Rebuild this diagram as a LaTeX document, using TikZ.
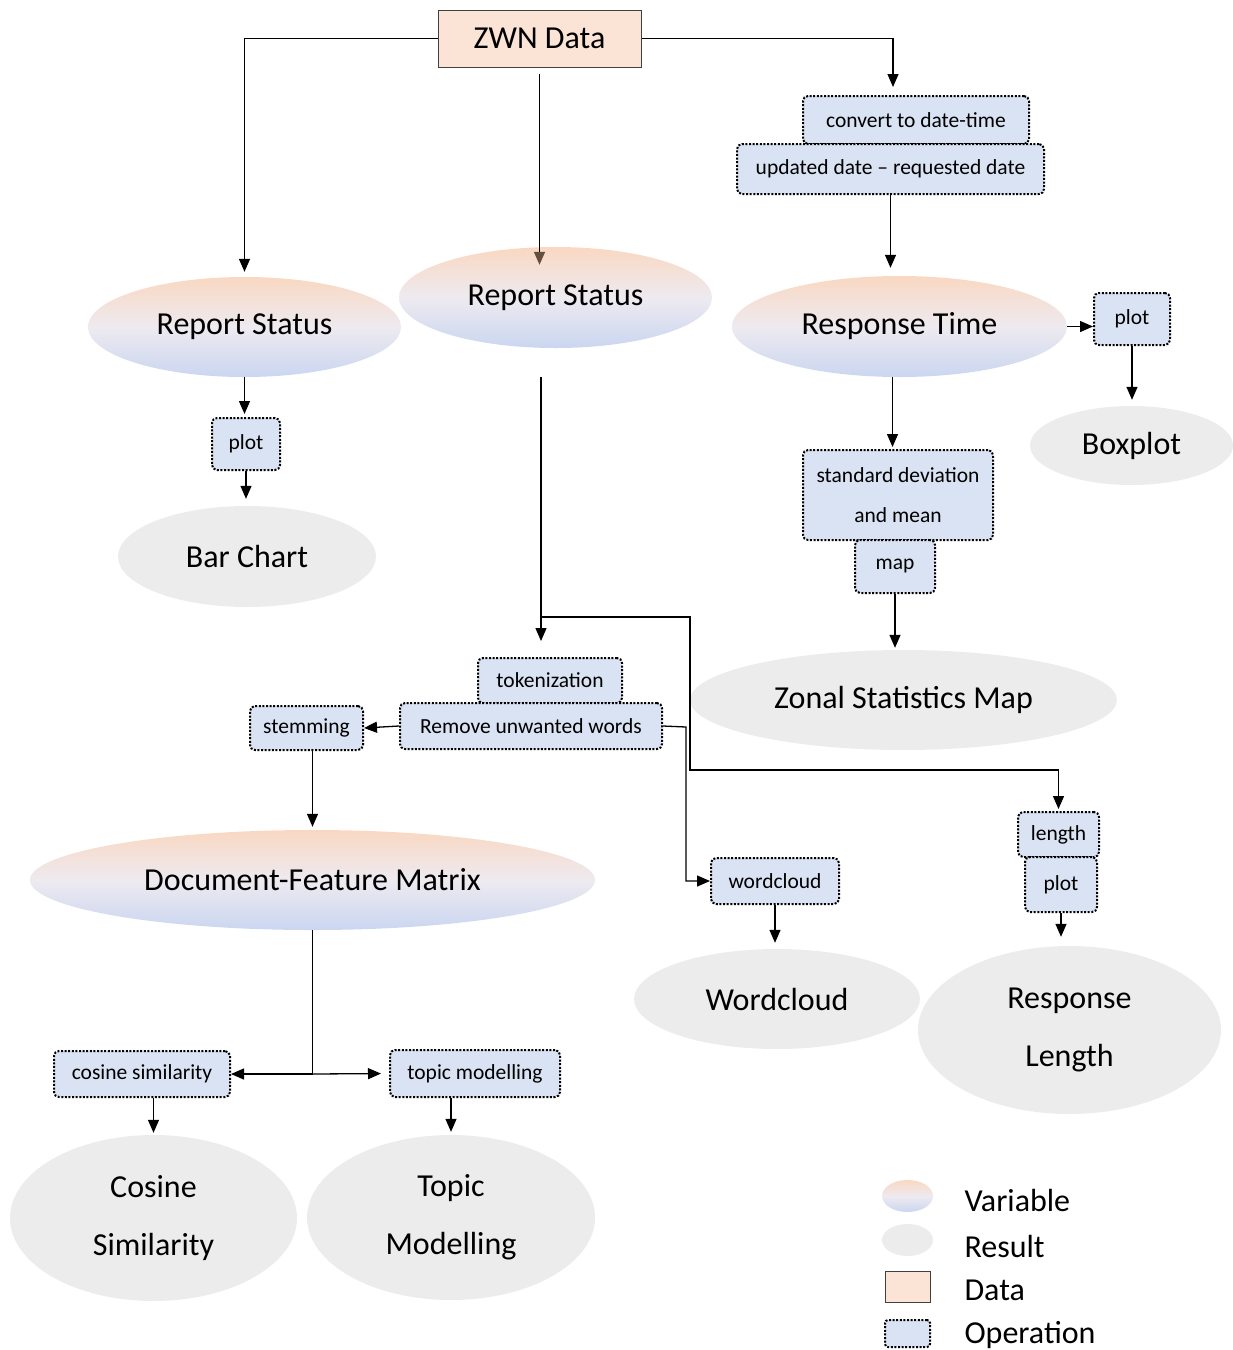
\documentclass[tikz,border=0pt]{standalone}
\usepackage{fontspec}
\setmainfont{Carlito}
\usetikzlibrary{shapes.geometric,arrows.meta,calc}
\definecolor{peach}{RGB}{251,228,214}
\definecolor{vtop}{RGB}{249,216,194}
\definecolor{vmid}{RGB}{238,234,240}
\definecolor{vbot}{RGB}{202,214,240}
\definecolor{opfill}{RGB}{218,227,243}
\definecolor{resfill}{RGB}{236,236,236}
\definecolor{tipbrown}{RGB}{100,78,62}
\tikzset{
  big/.style={font=\fontsize{32}{38}\selectfont},
  small/.style={font=\fontsize{21.5}{26}\selectfont},
  var/.style={ellipse, draw=none, top color=vtop, bottom color=vbot, middle color=vmid, inner sep=0pt, big},
  res/.style={ellipse, draw=none, fill=resfill, inner sep=0pt, big},
  op/.style={draw=black, rounded corners=5pt, fill=opfill, line width=2pt, dash pattern=on 2pt off 1.6pt, inner sep=0pt, small},
  datab/.style={draw=black!75, fill=peach, line width=1pt, inner sep=0pt, big},
  conn/.style={line width=1.3pt, -{Triangle[length=13pt,width=11pt]}},
  plain/.style={line width=1.3pt},
  legtext/.style={anchor=west, font=\fontsize{32}{38}\selectfont}
}
\begin{document}
\begin{tikzpicture}[x=1pt,y=-1pt]
\useasboundingbox (0,0) rectangle (1233,1350);

% data
\node[datab, minimum width=203pt, minimum height=57pt] (zwn) at (539.5,38.5) {ZWN Data};

% variables
\node[var, minimum width=313pt, minimum height=100pt] (rs1) at (244.5,327) {Report Status};
\node[var, minimum width=313pt, minimum height=101pt] (rs2) at (555.5,297.5) {Report Status};
\node[var, minimum width=335pt, minimum height=101pt] (rt) at (899.5,326.5) {Response Time};
\node[var, minimum width=565pt, minimum height=100pt] (dfm) at (312.5,880) {Document-Feature Matrix};

% operations
\node[op, minimum width=226pt, minimum height=48pt] (conv) at (916,120) {convert to date-time};
\node[op, minimum width=307pt, minimum height=50pt] (upd) at (890.5,169) {updated date -- requested date};
\node[op, minimum width=76pt, minimum height=52pt] (plot1) at (1132,319) {plot};
\node[op, minimum width=190pt, minimum height=90pt, align=center] (sd) at (898,495) {standard deviation\\[14pt]and mean};
\node[op, minimum width=80pt, minimum height=53pt] (map) at (895,566.5) {map};
\node[op, minimum width=68pt, minimum height=52pt] (plot2) at (246,444) {plot};
\node[op, minimum width=144pt, minimum height=45pt] (tok) at (550,680.5) {tokenization};
\node[op, minimum width=262pt, minimum height=46pt] (rem) at (531,726) {Remove unwanted words};
\node[op, minimum width=113pt, minimum height=44pt] (stem) at (306.5,728) {stemming};
\node[op, minimum width=81pt, minimum height=45pt] (len) at (1058.5,834.5) {length};
\node[op, minimum width=72pt, minimum height=55pt] (plot3) at (1061,884.5) {plot};
\node[op, minimum width=128pt, minimum height=46pt] (wcb) at (775,881) {wordcloud};
\node[op, minimum width=176pt, minimum height=46pt] (cos) at (142,1074) {cosine similarity};
\node[op, minimum width=170pt, minimum height=47pt] (top) at (475,1073.5) {topic modelling};

% results
\node[res, minimum width=203pt, minimum height=79pt] (bp) at (1131.5,445.5) {Boxplot};
\node[res, minimum width=258pt, minimum height=101pt] (bar) at (247,556.5) {Bar Chart};
\node[res, minimum width=427pt, minimum height=100pt] (zsm) at (903.5,700) {Zonal Statistics Map};
\node[res, minimum width=286pt, minimum height=100pt] (wc) at (777,999) {Wordcloud};
\node[res, minimum width=303pt, minimum height=168pt, align=center] (rl) at (1069.5,1030) {Response\\[20pt]Length};
\node[res, minimum width=287pt, minimum height=166pt, align=center] (cs) at (153.5,1218) {Cosine\\[20pt]Similarity};
\node[res, minimum width=288pt, minimum height=165pt, align=center] (tm) at (451,1217.5) {Topic\\[20pt]Modelling};

% helper coordinates
\coordinate (rsb) at (541,377);
\coordinate (split) at (541,617);
\coordinate (bend1) at (690,770);
\coordinate (bend2) at (686,727);

% connectors
\draw[conn, shorten >=5pt] (zwn.west) -| (rs1.north);
\draw[line width=1.3pt, -{Triangle[length=13pt,width=11pt,color=tipbrown]}] ($(zwn.south)+(0,6)$) -- ($(zwn.south |- rs2.north)+(0,18)$);
\draw[conn] (zwn.east) -| ($(conv.north -| upd.north)+(2.5,-8)$);
\draw[conn, shorten >=8pt] (upd.south) -- (upd.south |- rt.north);
\draw[conn] (rt.east) -- (rt.east -| plot1.west);
\draw[conn, shorten >=6pt] (plot1.south) -- (plot1.south |- bp.north);
\draw[conn, shorten >=2pt] ($(rt.south)+(-7,0)$) -- ($(rt.south |- sd.north)+(-7,0)$);
\draw[conn, shorten >=2pt] (map.south) -- (map.south |- zsm.north);
\draw[conn, shorten >=3pt] (rs1.south) -- (rs1.south |- plot2.north);
\draw[conn, shorten >=7pt] (plot2.south) -- (plot2.south |- bar.north);
\draw[conn, shorten >=16pt] (rsb) -- (rsb |- tok.north);
\draw[conn, shorten >=2pt] (split) -| (bend1) -| (len.north);
\draw[conn] (rem.west) -- (stem.east);
\draw[conn] (rem.east) -- (bend2) |- (wcb.west);
\draw[conn, shorten >=6pt] (wcb.south) -- (wcb.south |- wc.north);
\draw[conn, shorten >=3pt] (stem.south -| dfm.north) -- (dfm.north);
\draw[plain] (dfm.south) -- (dfm.south |- cos.east);
\draw[conn] (dfm.south |- cos.east) -- (cos.east);
\draw[conn, shorten >=8pt] (dfm.south |- cos.east) -- (top.west);
\draw[conn, shorten >=9pt] (plot3.south) -- (plot3.south |- rl.north);
\draw[conn, shorten >=2pt] (cos.south -| cs.north) -- (cs.north);
\draw[conn, shorten >=3pt] (top.south -| tm.north) -- (tm.north);

% legend
\node[ellipse, top color=vtop, bottom color=vbot, middle color=vmid, minimum width=51pt, minimum height=32pt, inner sep=0pt] (lv) at (907.5,1196) {};
\node[ellipse, fill=resfill, minimum width=51pt, minimum height=32pt, inner sep=0pt] (lr) at (907.5,1240) {};
\node[draw=black!75, fill=peach, line width=1pt, minimum width=45pt, minimum height=31pt, inner sep=0pt] (ld) at (907.5,1286.5) {};
\node[op, minimum width=45pt, minimum height=27pt, rounded corners=3pt] (lo) at (907.5,1333.5) {};
\node[legtext] (tv) at (961,1200) {Variable};
\node[legtext] (tr) at (961,1246) {Result};
\node[legtext] (td) at (961,1290) {Data};
\node[legtext] (to) at (961,1335) {Operation};
\end{tikzpicture}
\end{document}
